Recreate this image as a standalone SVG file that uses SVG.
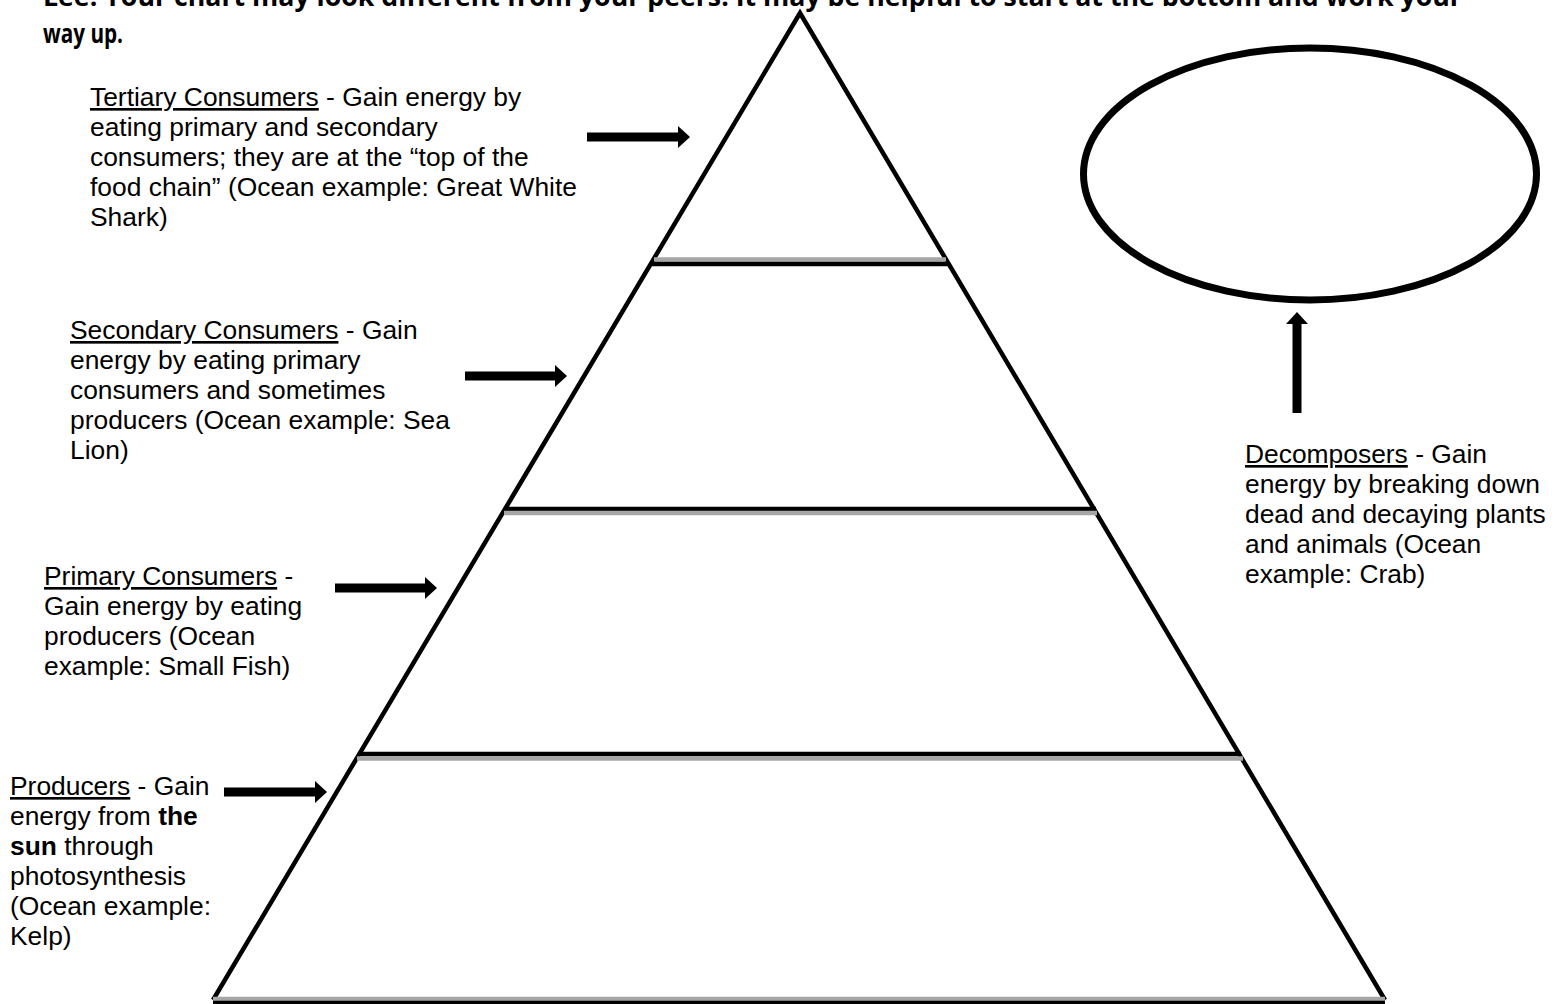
<svg xmlns="http://www.w3.org/2000/svg" width="1557" height="1004" viewBox="0 0 1557 1004">
<style>
.t{font-family:"Liberation Sans",Arial,sans-serif;font-size:26.4px;fill:#000}
.u{text-decoration:underline}
.b{font-weight:bold}
.h{font-family:"Open Sans","Liberation Sans",sans-serif;font-weight:bold;font-size:27px;fill:#000}
.edge{fill:none;stroke:#000;stroke-width:4.5;stroke-linejoin:miter}
.g{stroke:#a6a6a6;stroke-width:4.5}
.k{stroke:#000;stroke-width:4.5}
.arr{stroke:#000;stroke-width:9;fill:none}
</style>
<defs>
<marker id="ah" markerUnits="userSpaceOnUse" markerWidth="12" markerHeight="22" viewBox="0 0 12 22" refX="0" refY="11" orient="auto">
<path d="M0,0 L12,11 L0,22 Z" fill="#000"/>
</marker>
</defs>
<rect width="1557" height="1004" fill="#fff"/>
<g id="header">
<text class="h" x="43" y="6" textLength="1419" lengthAdjust="spacingAndGlyphs">Lee. Your chart may look different from your peers. It may be helpful to start at the bottom and work your</text>
<text class="h" x="43" y="43" font-size="30" textLength="80" lengthAdjust="spacingAndGlyphs">way up.</text>
</g>
<g id="pyramid">
<polyline class="edge" points="213,1000 800,13 1385,1000"/>
<line class="g" x1="654" y1="259.5" x2="946" y2="259.5"/>
<line class="k" x1="652" y1="264" x2="948" y2="264"/>
<line class="k" x1="505" y1="509" x2="1096" y2="509"/>
<line class="g" x1="504" y1="513" x2="1097" y2="513"/>
<line class="k" x1="359" y1="754" x2="1241" y2="754"/>
<line class="g" x1="357" y1="758.5" x2="1243" y2="758.5"/>
<line class="g" x1="213" y1="999" x2="1385" y2="999"/>
<line class="k" x1="213" y1="1003" x2="1385" y2="1003"/>
</g>
<g id="ellipse-node">
<ellipse cx="1310" cy="174" rx="226.5" ry="126" fill="none" stroke="#000" stroke-width="7"/>
</g>
<g id="tertiary">
<text class="t" x="90" y="106"><tspan class="u">Tertiary Consumers</tspan> - Gain energy by</text>
<text class="t" x="90" y="136">eating primary and secondary</text>
<text class="t" x="90" y="166">consumers; they are at the “top of the</text>
<text class="t" x="90" y="196">food chain” (Ocean example: Great White</text>
<text class="t" x="90" y="226">Shark)</text>
</g>
<g id="secondary">
<text class="t" x="70" y="339"><tspan class="u">Secondary Consumers</tspan> - Gain</text>
<text class="t" x="70" y="369">energy by eating primary</text>
<text class="t" x="70" y="399">consumers and sometimes</text>
<text class="t" x="70" y="429">producers (Ocean example: Sea</text>
<text class="t" x="70" y="459">Lion)</text>
</g>
<g id="primary">
<text class="t" x="44" y="585"><tspan class="u">Primary Consumers</tspan> -</text>
<text class="t" x="44" y="615">Gain energy by eating</text>
<text class="t" x="44" y="645">producers (Ocean</text>
<text class="t" x="44" y="675">example: Small Fish)</text>
</g>
<g id="producers">
<text class="t" x="10" y="795"><tspan class="u">Producers</tspan> - Gain</text>
<text class="t" x="10" y="825">energy from <tspan class="b">the</tspan></text>
<text class="t" x="10" y="855"><tspan class="b">sun</tspan> through</text>
<text class="t" x="10" y="885">photosynthesis</text>
<text class="t" x="10" y="915">(Ocean example:</text>
<text class="t" x="10" y="945">Kelp)</text>
</g>
<g id="decomposers">
<text class="t" x="1245" y="463"><tspan class="u">Decomposers</tspan> - Gain</text>
<text class="t" x="1245" y="493">energy by breaking down</text>
<text class="t" x="1245" y="523">dead and decaying plants</text>
<text class="t" x="1245" y="553">and animals (Ocean</text>
<text class="t" x="1245" y="583">example: Crab)</text>
</g>
<g id="connectors">
<line class="arr" x1="587" y1="137" x2="678" y2="137" marker-end="url(#ah)"/>
<line class="arr" x1="465" y1="376" x2="555" y2="376" marker-end="url(#ah)"/>
<line class="arr" x1="335" y1="588" x2="425" y2="588" marker-end="url(#ah)"/>
<line class="arr" x1="224" y1="792" x2="315" y2="792" marker-end="url(#ah)"/>
<line class="arr" x1="1297" y1="413" x2="1297" y2="324" marker-end="url(#ah)"/>
</g>
</svg>
